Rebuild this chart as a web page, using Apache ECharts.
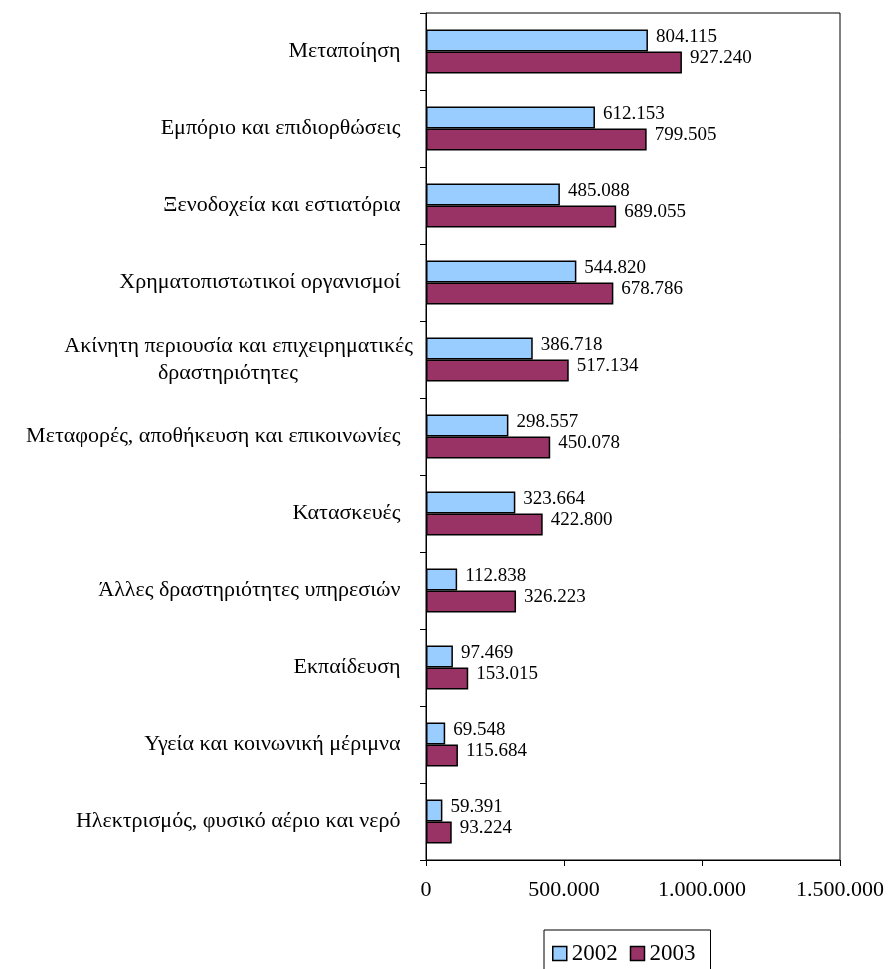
<!DOCTYPE html>
<html>
<head>
<meta charset="utf-8">
<script src="https://cdn.jsdelivr.net/npm/echarts@6/dist/echarts.min.js"></script>
<style>
html,body{margin:0;padding:0;background:#fff;}
#c{width:890px;height:969px;}
</style>
</head>
<body>
<div id="c"></div>
<script>
const categories = [
  'Μεταποίηση',
  'Εμπόριο και επιδιορθώσεις',
  'Ξενοδοχεία και εστιατόρια',
  'Χρηματοπιστωτικοί οργανισμοί',
  'Ακίνητη περιουσία και επιχειρηματικές\nδραστηριότητες',
  'Μεταφορές, αποθήκευση και επικοινωνίες',
  'Κατασκευές',
  'Άλλες δραστηριότητες υπηρεσιών',
  'Εκπαίδευση',
  'Υγεία και κοινωνική μέριμνα',
  'Ηλεκτρισμός, φυσικό αέριο και νερό'
];
const values2002 = [804115, 612153, 485088, 544820, 386718, 298557, 323664, 112838, 97469, 69548, 59391];
const values2003 = [927240, 799505, 689055, 678786, 517134, 450078, 422800, 326223, 153015, 115684, 93224];
const seriesNames = ['2002', '2003'];
const xTicks = [0, 500000, 1000000, 1500000];

const FONT = "'Liberation Serif', 'Times New Roman', serif";
function fmt(v) {
  return String(Math.round(v)).replace(/\B(?=(\d{3})+(?!\d))/g, '.');
}

const chart = echarts.init(document.getElementById('c'));
const labelCfg = {
  show: true, position: 'right', distance: 8, offset: [0, -4],
  color: '#000', fontFamily: FONT, fontSize: 19,
  formatter: p => fmt(p.value)
};
chart.setOption({
  animation: false,
  backgroundColor: '#fff',
  textStyle: { fontFamily: FONT },
  grid: {
    left: 426, top: 13, right: 50, bottom: 109,
    show: true, borderColor: '#000', borderWidth: 1, backgroundColor: 'transparent'
  },
  legend: {
    left: 544, top: 930,
    data: seriesNames,
    itemWidth: 14, itemHeight: 14, itemGap: 12,
    borderColor: '#000', borderWidth: 1,
    padding: [12, 15, 16, 8],
    textStyle: { fontFamily: FONT, fontSize: 23, color: '#000' },
    icon: 'rect',
    itemStyle: { borderColor: '#000', borderWidth: 1.5 }
  },
  xAxis: {
    type: 'value',
    min: xTicks[0], max: xTicks[xTicks.length - 1], interval: 500000,
    axisLine: { show: true, lineStyle: { color: '#000', width: 1 } },
    axisTick: { show: true, length: 6, lineStyle: { color: '#000' } },
    splitLine: { show: false },
    axisLabel: {
      color: '#000', fontFamily: FONT, fontSize: 22, margin: 19,
      formatter: v => fmt(v),
      showMinLabel: true, showMaxLabel: true
    }
  },
  yAxis: {
    type: 'category',
    inverse: true,
    data: categories,
    axisLine: { show: true, lineStyle: { color: '#000', width: 1 } },
    axisTick: { show: true, length: 6, lineStyle: { color: '#000' } },
    axisLabel: {
      color: '#000', fontFamily: FONT, fontSize: 22, margin: 20, lineHeight: 27,
      interval: 0,
      formatter: function (v) {
        if (v.indexOf('\n') >= 0) {
          const parts = v.split('\n');
          return '{a|' + parts[0] + '}\n{b|' + parts[1] + '}';
        }
        return v + ' ';
      },
      rich: {
        a: { color: '#000', fontFamily: FONT, fontSize: 22, lineHeight: 27, padding: [0, -7, 0, 0] },
        b: { color: '#000', fontFamily: FONT, fontSize: 22, lineHeight: 27, padding: [0, 108, 0, 0] }
      }
    }
  },
  series: [
    {
      name: seriesNames[0], type: 'bar', data: values2002,
      barGap: '0%', barCategoryGap: '43%',
      itemStyle: { color: '#99CCFF', borderColor: '#000', borderWidth: 1.5 },
      label: labelCfg
    },
    {
      name: seriesNames[1], type: 'bar', data: values2003,
      barGap: '0%', barCategoryGap: '43%',
      itemStyle: { color: '#993366', borderColor: '#000', borderWidth: 1.5 },
      label: labelCfg
    }
  ]
});
</script>
</body>
</html>
